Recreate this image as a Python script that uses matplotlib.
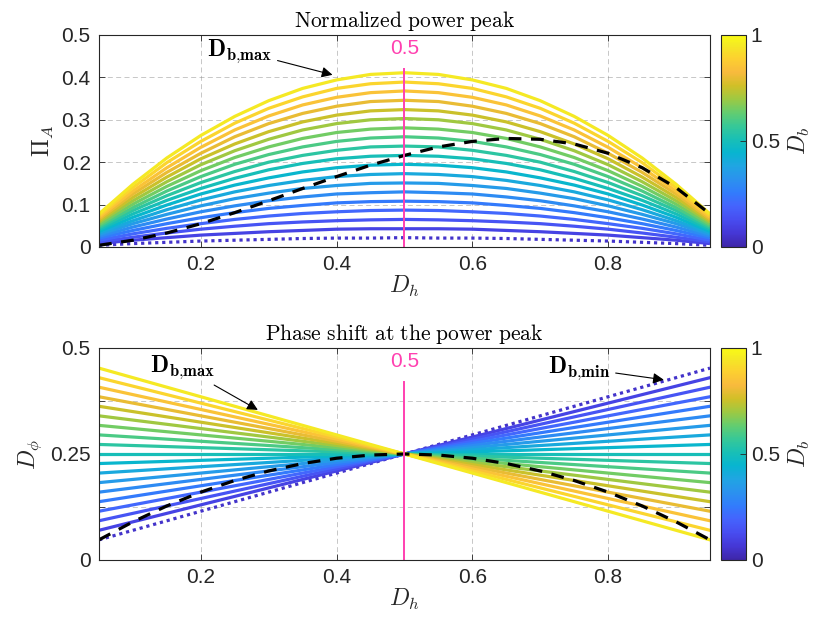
import matplotlib
matplotlib.use("Agg")
import matplotlib.pyplot as plt
from matplotlib.colors import LinearSegmentedColormap, Normalize
from matplotlib.cm import ScalarMappable

# Duty cycle grid of the harvester side (x axis)
Dh = [0.05, 0.10, 0.15, 0.20, 0.25, 0.30, 0.35, 0.40, 0.45, 0.50,
      0.55, 0.60, 0.65, 0.70, 0.75, 0.80, 0.85, 0.90, 0.95]

# one curve per D_b value (first one is D_b,min, drawn dotted)
Db = [0.05, 0.10, 0.15, 0.20, 0.25, 0.30, 0.35, 0.40, 0.45, 0.50,
      0.55, 0.60, 0.65, 0.70, 0.75, 0.80, 0.85, 0.90, 0.95]

# normalized power peak Pi_A (row = D_b, col = D_h)
Pi_A = [
    [0.004, 0.008, 0.011, 0.014, 0.016, 0.018, 0.020, 0.021, 0.021, 0.022, 0.021, 0.021, 0.020, 0.018, 0.016, 0.014, 0.011, 0.008, 0.004],
    [0.008, 0.016, 0.022, 0.028, 0.032, 0.036, 0.039, 0.042, 0.043, 0.043, 0.043, 0.042, 0.039, 0.036, 0.032, 0.028, 0.022, 0.016, 0.008],
    [0.012, 0.023, 0.033, 0.042, 0.049, 0.055, 0.059, 0.062, 0.064, 0.065, 0.064, 0.062, 0.059, 0.055, 0.049, 0.042, 0.033, 0.023, 0.012],
    [0.016, 0.031, 0.044, 0.055, 0.065, 0.073, 0.079, 0.083, 0.086, 0.087, 0.086, 0.083, 0.079, 0.073, 0.065, 0.055, 0.044, 0.031, 0.016],
    [0.021, 0.039, 0.055, 0.069, 0.081, 0.091, 0.098, 0.104, 0.107, 0.108, 0.107, 0.104, 0.098, 0.091, 0.081, 0.069, 0.055, 0.039, 0.021],
    [0.025, 0.047, 0.066, 0.083, 0.097, 0.109, 0.118, 0.125, 0.128, 0.130, 0.128, 0.125, 0.118, 0.109, 0.097, 0.083, 0.066, 0.047, 0.025],
    [0.029, 0.055, 0.077, 0.097, 0.114, 0.127, 0.138, 0.145, 0.150, 0.151, 0.150, 0.145, 0.138, 0.127, 0.114, 0.097, 0.077, 0.055, 0.029],
    [0.033, 0.062, 0.088, 0.111, 0.130, 0.145, 0.157, 0.166, 0.171, 0.173, 0.171, 0.166, 0.157, 0.145, 0.130, 0.111, 0.088, 0.062, 0.033],
    [0.037, 0.070, 0.099, 0.125, 0.146, 0.163, 0.177, 0.187, 0.193, 0.195, 0.193, 0.187, 0.177, 0.163, 0.146, 0.125, 0.099, 0.070, 0.037],
    [0.041, 0.078, 0.110, 0.138, 0.162, 0.182, 0.197, 0.208, 0.214, 0.216, 0.214, 0.208, 0.197, 0.182, 0.162, 0.138, 0.110, 0.078, 0.041],
    [0.045, 0.086, 0.121, 0.152, 0.178, 0.200, 0.216, 0.228, 0.236, 0.238, 0.236, 0.228, 0.216, 0.200, 0.178, 0.152, 0.121, 0.086, 0.045],
    [0.049, 0.093, 0.132, 0.166, 0.195, 0.218, 0.236, 0.249, 0.257, 0.260, 0.257, 0.249, 0.236, 0.218, 0.195, 0.166, 0.132, 0.093, 0.049],
    [0.053, 0.101, 0.143, 0.180, 0.211, 0.236, 0.256, 0.270, 0.278, 0.281, 0.278, 0.270, 0.256, 0.236, 0.211, 0.180, 0.143, 0.101, 0.053],
    [0.058, 0.109, 0.154, 0.194, 0.227, 0.254, 0.276, 0.291, 0.300, 0.303, 0.300, 0.291, 0.276, 0.254, 0.227, 0.194, 0.154, 0.109, 0.058],
    [0.062, 0.117, 0.165, 0.208, 0.243, 0.272, 0.295, 0.311, 0.321, 0.324, 0.321, 0.311, 0.295, 0.272, 0.243, 0.208, 0.165, 0.117, 0.062],
    [0.066, 0.125, 0.176, 0.221, 0.260, 0.291, 0.315, 0.332, 0.343, 0.346, 0.343, 0.332, 0.315, 0.291, 0.260, 0.221, 0.176, 0.125, 0.066],
    [0.070, 0.132, 0.187, 0.235, 0.276, 0.309, 0.335, 0.353, 0.364, 0.368, 0.364, 0.353, 0.335, 0.309, 0.276, 0.235, 0.187, 0.132, 0.070],
    [0.074, 0.140, 0.199, 0.249, 0.292, 0.327, 0.354, 0.374, 0.385, 0.389, 0.385, 0.374, 0.354, 0.327, 0.292, 0.249, 0.199, 0.140, 0.074],
    [0.078, 0.148, 0.210, 0.263, 0.308, 0.345, 0.374, 0.394, 0.407, 0.411, 0.407, 0.394, 0.374, 0.345, 0.308, 0.263, 0.210, 0.148, 0.078],
]

# optimum locus (D_b = D_h), black dashed
Pi_A_opt = [0.004, 0.016, 0.033, 0.055, 0.081, 0.109, 0.138, 0.166, 0.193, 0.216,
            0.236, 0.249, 0.256, 0.254, 0.243, 0.221, 0.187, 0.140, 0.078]
Dphi_opt = [0.0475, 0.090, 0.1275, 0.160, 0.1875, 0.210, 0.2275, 0.240, 0.2475, 0.250,
            0.2475, 0.240, 0.2275, 0.210, 0.1875, 0.160, 0.1275, 0.090, 0.0475]

# phase shift lines are straight: values at both ends of the D_h range
Dh_ends = [0.05, 0.95]
Dphi_left = [0.0475, 0.070, 0.0925, 0.115, 0.1375, 0.160, 0.1825, 0.205, 0.2275, 0.250,
             0.2725, 0.295, 0.3175, 0.340, 0.3625, 0.385, 0.4075, 0.430, 0.4525]
Dphi_right = [0.4525, 0.430, 0.4075, 0.385, 0.3625, 0.340, 0.3175, 0.295, 0.2725, 0.250,
              0.2275, 0.205, 0.1825, 0.160, 0.1375, 0.115, 0.0925, 0.070, 0.0475]

# MATLAB parula (subsampled)
parula_pts = [
    (0.2422, 0.1504, 0.6603), (0.2706, 0.2147, 0.8364), (0.2813, 0.3006, 0.9414),
    (0.2699, 0.3892, 0.9906), (0.1963, 0.4847, 0.9892), (0.1687, 0.5703, 0.9359),
    (0.1248, 0.6459, 0.8883), (0.0297, 0.7082, 0.8163), (0.0964, 0.7500, 0.7120),
    (0.2161, 0.7843, 0.5923), (0.3909, 0.8029, 0.4354), (0.6174, 0.7876, 0.2612),
    (0.8203, 0.7498, 0.1535), (0.9728, 0.7298, 0.2394), (0.9892, 0.8136, 0.1885),
    (0.9597, 0.9135, 0.1423), (0.9769, 0.9839, 0.0805),
]
parula_pos = [0, 4, 8, 12, 16, 20, 24, 28, 32, 36, 40, 44, 48, 52, 56, 60, 63]
parula = LinearSegmentedColormap.from_list(
    "parula", [(p / 63, c) for p, c in zip(parula_pos, parula_pts)])

plt.rcParams['font.family'] = ['Liberation Sans', 'DejaVu Sans']
plt.rcParams['mathtext.fontset'] = 'cm'

AX_COL = '#262626'
PINK = '#ff40b0'


def style_axes(ax, yticks, ylabels):
    ax.set_xlim(0.05, 0.95)
    ax.set_ylim(0, 0.5)
    ax.set_xticks([0.2, 0.4, 0.6, 0.8])
    ax.set_xticklabels(['0.2', '0.4', '0.6', '0.8'])
    ax.set_yticks(yticks)
    ax.set_yticklabels(ylabels)
    ax.tick_params(direction='in', top=True, right=True, labelsize=15,
                   colors=AX_COL, length=4, width=0.6, pad=6)
    ax.grid(True, linestyle=(0, (6, 4)), color='#888888', alpha=0.55, lw=0.6)
    ax.set_axisbelow(True)
    for s in ax.spines.values():
        s.set_color(AX_COL)
        s.set_linewidth(0.8)
    ax.set_xlabel('$D_h$', fontsize=17, color=AX_COL, labelpad=0)


def add_colorbar(fig, cax):
    cb = fig.colorbar(ScalarMappable(norm=Normalize(0, 1), cmap=parula),
                      cax=cax, ticks=[0, 0.5, 1])
    cb.ax.set_yticklabels(['0', '0.5', '1'])
    cb.ax.tick_params(direction='in', labelsize=15, colors=AX_COL, length=4, width=0.6)
    cb.outline.set_edgecolor(AX_COL)
    cb.outline.set_linewidth(0.8)
    cb.set_label('$D_b$', fontsize=17, color=AX_COL, labelpad=5)


def bold_label(sub):
    return r'$\mathbf{D}_{\mathbf{' + sub + '}}$'


fig = plt.figure(figsize=(8.16, 6.17), dpi=100)
ax1 = fig.add_axes([0.1213, 0.5997, 0.7488, 0.3436])
cax1 = fig.add_axes([0.8836, 0.5997, 0.0306, 0.3436])
ax2 = fig.add_axes([0.1213, 0.0924, 0.7488, 0.3436])
cax2 = fig.add_axes([0.8836, 0.0924, 0.0306, 0.3436])

arrow = dict(arrowstyle='-|>', color='k', lw=0.8, mutation_scale=16, shrinkA=2, shrinkB=0)

# ---- top: normalized power peak ----
for i, db in enumerate(Db):
    col = parula(db)
    if i == 0:
        ax1.plot(Dh, Pi_A[i], color=col, lw=2.3, linestyle=(0, (1, 1.2)))
    else:
        ax1.plot(Dh, Pi_A[i], color=col, lw=2.3, solid_capstyle='butt')
ax1.plot(Dh, Pi_A_opt, color='k', lw=2.3, linestyle=(0, (4, 3)))
ax1.plot([0.5, 0.5], [0, 0.42], color=PINK, lw=1.4)
ax1.text(0.5, 0.445, '0.5', color=PINK, fontsize=15, ha='center', va='bottom')
style_axes(ax1, [0, 0.1, 0.2, 0.3, 0.4, 0.5], ['0', '0.1', '0.2', '0.3', '0.4', '0.5'])
ax1.set_ylabel(r'$\Pi_A$', fontsize=17, color=AX_COL, labelpad=4)
ax1.set_title(r'$\mathrm{Normalized\ power\ peak}$', fontsize=15.5, pad=6)
ax1.annotate(bold_label('b{,}max'), xy=(0.394, 0.406), xytext=(0.257, 0.463),
             ha='center', va='center', fontsize=17, arrowprops=arrow)
add_colorbar(fig, cax1)

# ---- bottom: phase shift at the power peak ----
for i, db in enumerate(Db):
    col = parula(db)
    if i == 0:
        ax2.plot(Dh_ends, [Dphi_left[i], Dphi_right[i]], color=col, lw=2.3,
                 linestyle=(0, (1, 1.2)))
    else:
        ax2.plot(Dh_ends, [Dphi_left[i], Dphi_right[i]], color=col, lw=2.3)
ax2.plot(Dh, Dphi_opt, color='k', lw=2.3, linestyle=(0, (4, 3)))
ax2.plot([0.5, 0.5], [0, 0.42], color=PINK, lw=1.4)
ax2.text(0.5, 0.445, '0.5', color=PINK, fontsize=15, ha='center', va='bottom')
style_axes(ax2, [0, 0.125, 0.25, 0.375, 0.5], ['0', '', '0.25', '', '0.5'])
ax2.set_ylabel(r'$D_\phi$', fontsize=17, color=AX_COL, labelpad=4)
ax2.set_title(r'$\mathrm{Phase\ shift\ at\ the\ power\ peak}$', fontsize=15.5, pad=6)
ax2.annotate(bold_label('b{,}max'), xy=(0.284, 0.354), xytext=(0.173, 0.455),
             ha='center', va='center', fontsize=17, arrowprops=arrow)
ax2.annotate(bold_label('b{,}min'), xy=(0.882, 0.425), xytext=(0.757, 0.453),
             ha='center', va='center', fontsize=17, arrowprops=arrow)
add_colorbar(fig, cax2)

fig.savefig('out.png', dpi=100)
